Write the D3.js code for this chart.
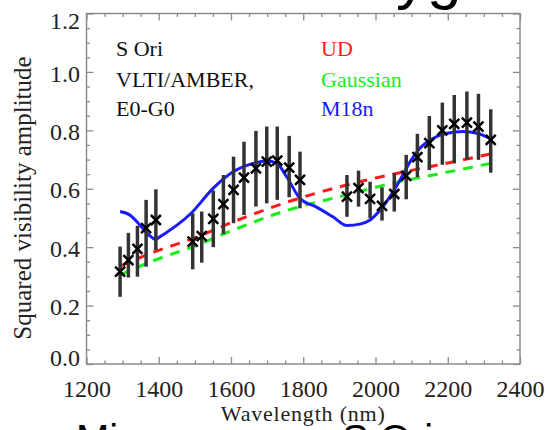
<!DOCTYPE html>
<html>
<head>
<meta charset="utf-8">
<script src="https://cdn.jsdelivr.net/npm/d3@7"></script>
<style>
  html, body { margin: 0; padding: 0; background: #fff; }
  svg { display: block; }
</style>
</head>
<body>
<svg id="chart" width="545" height="430"></svg>
<script>
// ---- data ----
const wavelengths = [1293,1316,1341,1365,1392, 1494,1519,1551,1579,1607,1636,1669,1699,1728,1761,1791,
                     1921,1953,1985,2018,2052,2085,2116,2149,2185,2218,2253,2285,2319];
const v2 = [0.316,0.356,0.394,0.465,0.493, 0.419,0.438,0.497,0.547,0.596,0.638,0.670,0.693,0.696,0.672,0.630,
            0.573,0.602,0.565,0.541,0.582,0.644,0.708,0.756,0.800,0.822,0.826,0.813,0.767];
const v2Upper = [0.402,0.449,0.473,0.562,0.598, 0.516,0.522,0.594,0.647,0.710,0.761,0.798,0.813,0.813,0.781,0.727,
                 0.647,0.662,0.624,0.605,0.653,0.716,0.788,0.849,0.895,0.921,0.933,0.925,0.872];
const v2Lower = [0.230,0.296,0.299,0.333,0.390, 0.324,0.347,0.400,0.445,0.482,0.510,0.539,0.550,0.562,0.571,0.533,
                 0.504,0.539,0.499,0.491,0.522,0.564,0.640,0.664,0.682,0.687,0.699,0.699,0.655];

const udWl  = [1293,1390,1496,1607,1745,1920,2068,2160,2318];
const udV   = [0.335,0.385,0.430,0.487,0.550,0.613,0.655,0.678,0.719];
const gaussWl = [1293,1390,1496,1607,1745,1920,2068,2160,2318];
const gaussV  = [0.305,0.356,0.402,0.459,0.522,0.579,0.625,0.647,0.687];

// M18n model: first piece ends at the cusp, second piece starts there
const modelWlA = [1293,1320,1343,1367,1390];
const modelVA  = [0.522,0.510,0.482,0.448,0.425];
const modelWlB = [1390,1491,1551,1607,1662,1699,1727,1754,1791,1837,1883,1921,1957,1985,2013,2040,2068,2096,2123,2160,2198,2243,2281,2322];
const modelVB  = [0.425,0.518,0.602,0.659,0.687,0.695,0.687,0.641,0.567,0.537,0.503,0.474,0.479,0.493,0.527,0.573,0.630,0.693,0.739,0.773,0.790,0.796,0.790,0.770];

const xTicks = [1200,1400,1600,1800,2000,2200,2400];
const xMinor = d3.range(1250, 2400, 50).filter(d => d % 200 !== 0);
const yTicks = [0.0,0.2,0.4,0.6,0.8,1.0,1.2];
const yMinor = d3.range(0.05, 1.2, 0.05).filter(d => Math.round(d*100) % 20 !== 0);

const legendLeft  = ["S Ori", "VLTI/AMBER,", "E0-G0"];
const legendRight = ["UD", "Gaussian", "M18n"];
const legendColors = ["#ff1a1a", "#1aee1a", "#1a1aff"];

// ---- drawing ----
const svg = d3.select("#chart");
const L = 86.5, R = 520, T = 13.5, B = 364;
const x = d3.scaleLinear().domain([1200, 2400]).range([L, R]);
const y = d3.scaleLinear().domain([0, 1.2]).range([B, T]);

const serif = "'Liberation Serif', 'DejaVu Serif', serif";
const axisCol = "#8c8c8c";

// page artifacts (surrounding document text)
svg.append("text").attr("x", 396).attr("y", -3).attr("font-family", "'Liberation Sans', sans-serif")
  .attr("font-size", 62).attr("fill", "#000").text("yg");
svg.append("text").attr("x", 76).attr("y", 453).attr("font-family", "'Liberation Sans', sans-serif")
  .attr("font-size", 40).attr("fill", "#000").text("Mi");
svg.append("text").attr("x", 342).attr("y", 453).attr("font-family", "'Liberation Sans', sans-serif")
  .attr("font-size", 40).attr("fill", "#000").text("S Ori");

// axes
function styleAxis(g) {
  g.select(".domain").remove();
  g.selectAll(".tick line").attr("stroke", axisCol).attr("stroke-width", 1.3);
  g.selectAll("text").attr("font-family", serif).attr("font-size", 24).attr("fill", "#222");
}
const gx = svg.append("g").attr("transform", `translate(0,${B})`)
  .call(d3.axisBottom(x).tickValues(xTicks).tickFormat(d3.format("d")).tickSize(-7).tickPadding(16));
styleAxis(gx);
const gxm = svg.append("g").attr("transform", `translate(0,${B})`)
  .call(d3.axisBottom(x).tickValues(xMinor).tickFormat("").tickSize(-3.5));
styleAxis(gxm);
const gxt = svg.append("g").attr("transform", `translate(0,${T})`)
  .call(d3.axisTop(x).tickValues(xTicks).tickFormat("").tickSize(-7));
styleAxis(gxt);
const gxtm = svg.append("g").attr("transform", `translate(0,${T})`)
  .call(d3.axisTop(x).tickValues(xMinor).tickFormat("").tickSize(-3.5));
styleAxis(gxtm);

const gy = svg.append("g").attr("transform", `translate(${L},0)`)
  .call(d3.axisLeft(y).tickValues(yTicks).tickFormat(d3.format(".1f")).tickSize(-7).tickPadding(6.5));
styleAxis(gy);
gy.selectAll(".tick text").attr("dy", d => d === 1.2 ? "0.62em" : (d === 0 ? "0.05em" : "0.38em"));
const gym = svg.append("g").attr("transform", `translate(${L},0)`)
  .call(d3.axisLeft(y).tickValues(yMinor).tickFormat("").tickSize(-3.5));
styleAxis(gym);
const gyr = svg.append("g").attr("transform", `translate(${R},0)`)
  .call(d3.axisRight(y).tickValues(yTicks).tickFormat("").tickSize(-7));
styleAxis(gyr);
const gyrm = svg.append("g").attr("transform", `translate(${R},0)`)
  .call(d3.axisRight(y).tickValues(yMinor).tickFormat("").tickSize(-3.5));
styleAxis(gyrm);

svg.append("rect").attr("x", L).attr("y", T).attr("width", R - L).attr("height", B - T)
  .attr("fill", "none").attr("stroke", axisCol).attr("stroke-width", 1.5);

// axis titles
svg.append("text").attr("x", (L + R) / 2).attr("y", 421).attr("text-anchor", "middle")
  .attr("font-family", serif).attr("font-size", 22).attr("letter-spacing", 0.8).attr("fill", "#222")
  .text("Wavelength (nm)");
svg.append("text").attr("transform", `translate(31,198) rotate(-90)`).attr("text-anchor", "middle")
  .attr("font-family", serif).attr("font-size", 25).attr("fill", "#222")
  .text("Squared visibility amplitude");

// model lines
const lineGen = d3.line().x(d => x(d[0])).y(d => y(d[1])).curve(d3.curveMonotoneX);
svg.append("path").datum(d3.zip(udWl, udV)).attr("d", lineGen)
  .attr("fill", "none").attr("stroke", legendColors[0]).attr("stroke-width", 3).attr("stroke-dasharray", "10,8");
svg.append("path").datum(d3.zip(gaussWl, gaussV)).attr("d", lineGen)
  .attr("fill", "none").attr("stroke", legendColors[1]).attr("stroke-width", 3).attr("stroke-dasharray", "10,8");
[d3.zip(modelWlA, modelVA), d3.zip(modelWlB, modelVB)].forEach(seg => {
  svg.append("path").datum(seg).attr("d", lineGen)
    .attr("fill", "none").attr("stroke", legendColors[2]).attr("stroke-width", 3).attr("stroke-linejoin", "miter");
});

// error bars and markers
const pts = wavelengths.map((w, i) => ({ w, v: v2[i], hi: v2Upper[i], lo: v2Lower[i] }));
svg.append("g").selectAll("line").data(pts).join("line")
  .attr("x1", d => x(d.w)).attr("x2", d => x(d.w))
  .attr("y1", d => y(d.hi)).attr("y2", d => y(d.lo))
  .attr("stroke", "#333").attr("stroke-width", 3.5);
const s = 5;
svg.append("g").selectAll("path").data(pts).join("path")
  .attr("d", d => `M${x(d.w)-s},${y(d.v)-s}L${x(d.w)+s},${y(d.v)+s}M${x(d.w)-s},${y(d.v)+s}L${x(d.w)+s},${y(d.v)-s}`)
  .attr("stroke", "#000").attr("stroke-width", 2.5).attr("fill", "none");

// legend text
const lg = svg.append("g").attr("font-family", serif).attr("font-size", 22);
const rowsY = [55.5, 87, 116];
lg.selectAll("text.l").data(legendLeft).join("text").attr("class", "l")
  .attr("x", 116).attr("y", (d, i) => rowsY[i]).attr("fill", "#111").text(d => d);
lg.selectAll("text.r").data(legendRight).join("text").attr("class", "r")
  .attr("x", 321).attr("y", (d, i) => rowsY[i]).attr("fill", (d, i) => legendColors[i]).text(d => d);
</script>
</body>
</html>
